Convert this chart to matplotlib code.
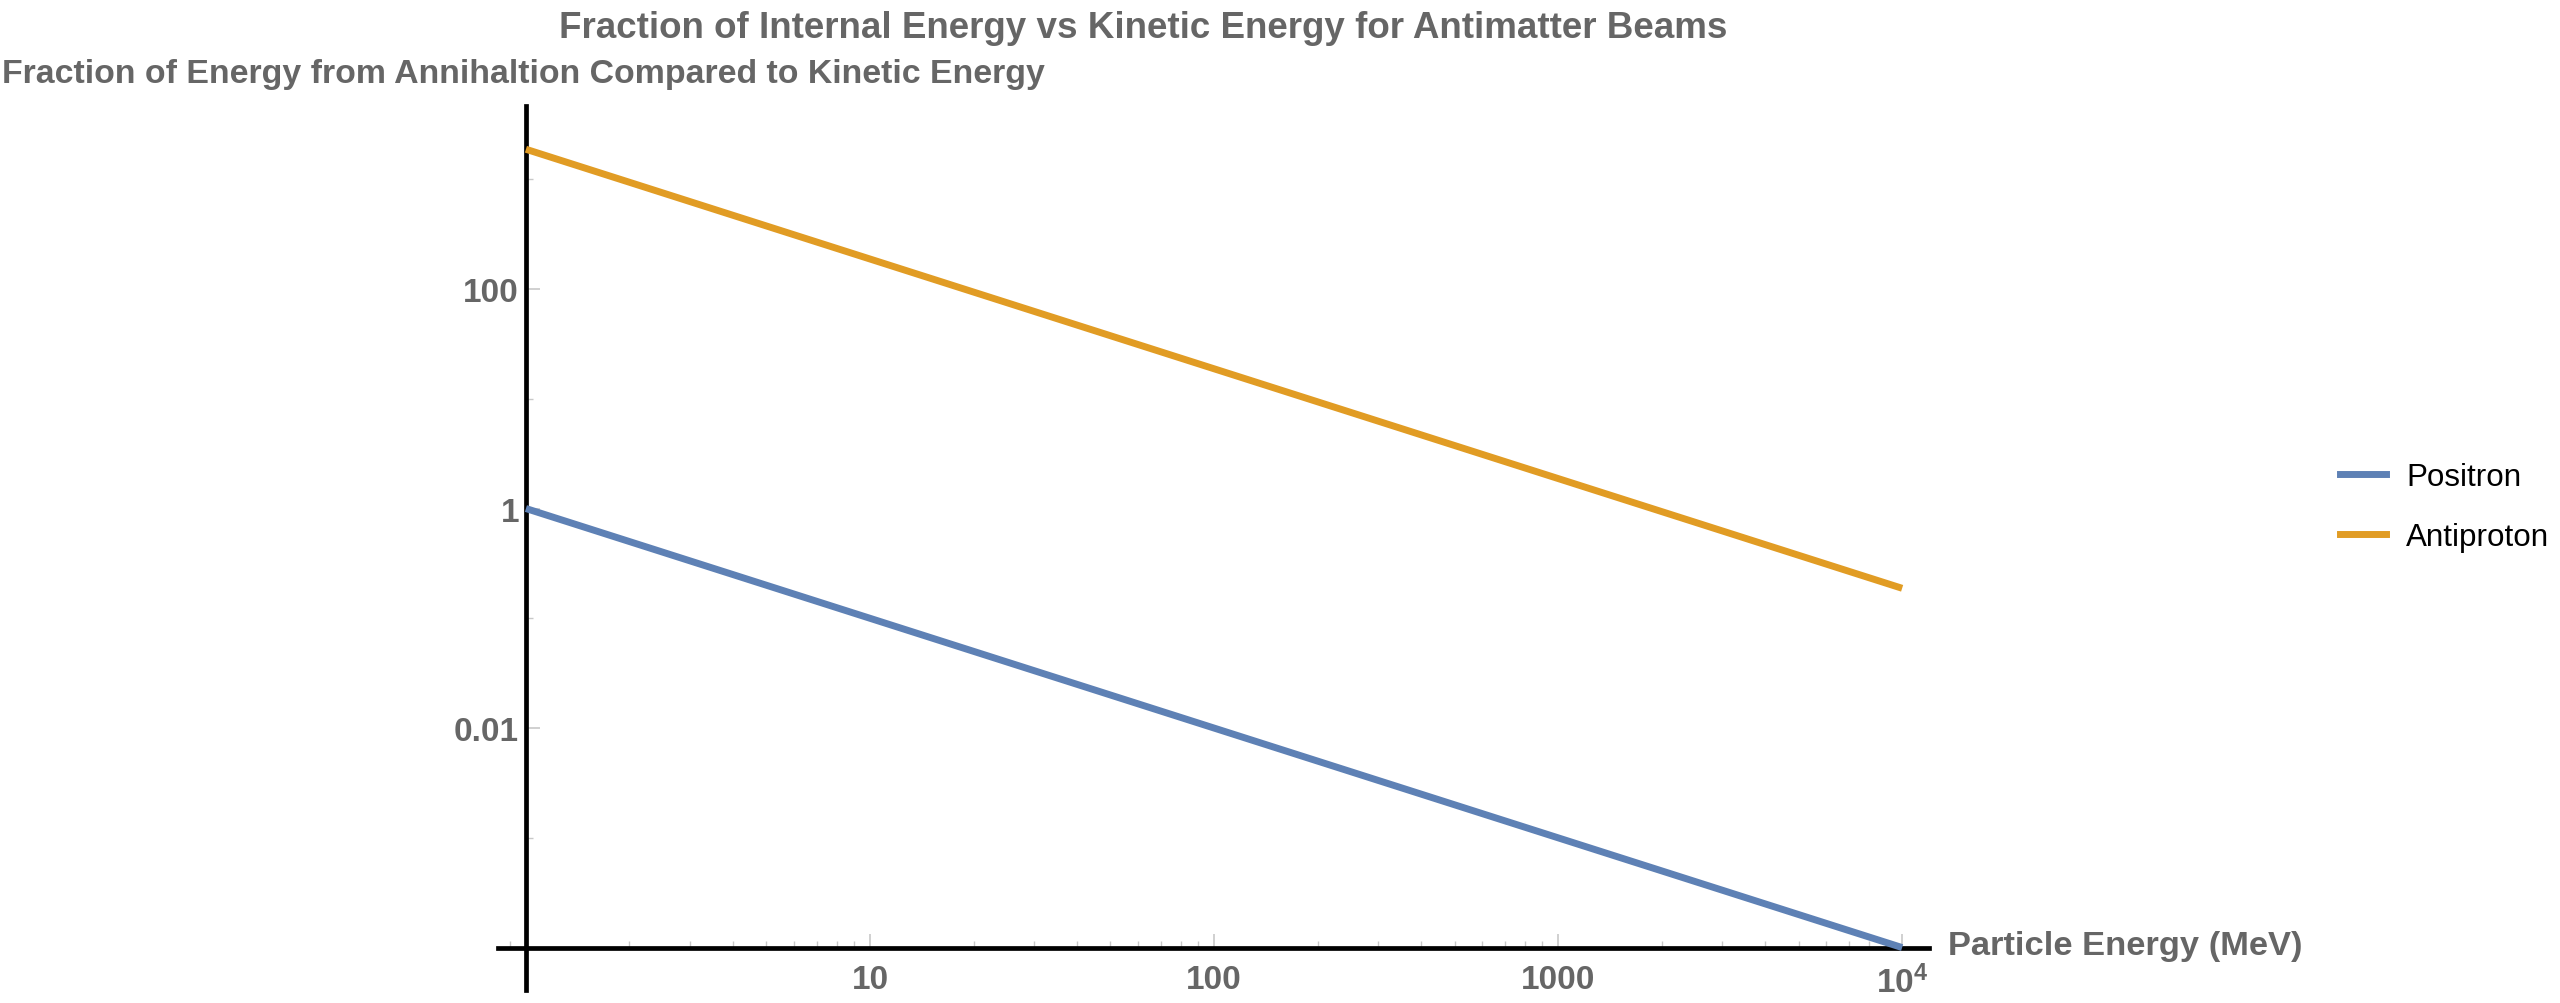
import numpy as np
import matplotlib
matplotlib.use("Agg")
import matplotlib.pyplot as plt
from matplotlib.ticker import FixedLocator, NullFormatter, LogLocator
from matplotlib.lines import Line2D

plt.rcParams['font.family'] = ['Liberation Sans', 'DejaVu Sans']
plt.rcParams['mathtext.fontset'] = 'custom'
plt.rcParams['mathtext.rm'] = 'Liberation Sans:bold'
plt.rcParams['mathtext.it'] = 'Liberation Sans:bold'
plt.rcParams['mathtext.bf'] = 'Liberation Sans:bold'

# values
energy_mev = [1, 10, 100, 1000, 10000]
positron_frac = [1, 0.1, 0.01, 0.001, 0.0001]
antiproton_frac = [1876, 187.6, 18.76, 1.876, 0.1876]
series_names = ['Positron', 'Antiproton']

x_ticks = [10, 100, 1000, 10000]
x_tick_labels = ['10', '100', '1000', '$10^{4}$']
y_ticks = [0.01, 1, 100]
y_tick_labels = ['0.01', '1', '100']
y_minor = [0.001, 0.1, 10, 1000]

title = 'Fraction of Internal Energy vs Kinetic Energy for Antimatter Beams'
y_label = 'Fraction of Energy from Annihaltion Compared to Kinetic Energy'
x_label = 'Particle Energy (MeV)'

blue = '#5E81B5'
orange = '#E19C24'
gray = '#666666'
tick_gray = '#c8c8c8'

fig = plt.figure(figsize=(25.6, 10.04), dpi=100)
ax = fig.add_axes([0.1945, 0.0129, 0.559, 0.8805])

ax.plot(energy_mev, positron_frac, color=blue, lw=5, solid_capstyle='butt', zorder=3)
ax.plot(energy_mev, antiproton_frac, color=orange, lw=5, solid_capstyle='butt', zorder=3)

ax.set_xscale('log')
ax.set_yscale('log')
ax.set_xlim(10 ** -0.0814, 10 ** 4.078)
ax.set_ylim(10 ** -4.387, 10 ** 3.667)

# mathematica style axes crossing at (1, 1e-4)
for s in ['top', 'right']:
    ax.spines[s].set_visible(False)
ax.spines['left'].set_position(('data', 1))
ax.spines['bottom'].set_position(('data', 1e-4))
for s in ['left', 'bottom']:
    ax.spines[s].set_linewidth(3.4)
    ax.spines[s].set_color('black')
    ax.spines[s].set_zorder(2)

ax.set_xticks(x_ticks, x_tick_labels, fontweight='bold')
ax.xaxis.set_minor_locator(LogLocator(base=10, subs=np.arange(2, 10), numticks=20))
ax.xaxis.set_minor_formatter(NullFormatter())
ax.set_yticks(y_ticks, y_tick_labels, fontweight='bold')
ax.yaxis.set_minor_locator(FixedLocator(y_minor))
ax.yaxis.set_minor_formatter(NullFormatter())

ax.tick_params(which='major', direction='in', length=10, width=1.2, color=tick_gray,
               labelsize=24, labelcolor=gray)
ax.tick_params(which='minor', direction='in', length=5, width=1.0, color=tick_gray)
ax.tick_params(axis='x', which='major', pad=12)
ax.tick_params(axis='y', which='major', pad=5)

fig.text(1143 / 2560, 1 - 28 / 1004, title, ha='center', va='center',
         fontsize=26.5, fontweight='bold', color=gray)
fig.text(2 / 2560, 1 - 75 / 1004, y_label, ha='left', va='center',
         fontsize=24.4, fontweight='bold', color=gray)
fig.text(1948 / 2560, 1 - 947 / 1004, x_label, ha='left', va='center',
         fontsize=24.8, fontweight='bold', color=gray)

handles = [Line2D([0], [0], color=blue, lw=5), Line2D([0], [0], color=orange, lw=5)]
fig.legend(handles, series_names, loc='center left', bbox_to_anchor=(2340 / 2560, 1 - 508 / 1004),
           frameon=False, fontsize=22.6, handlelength=1.47, handletextpad=0.64,
           labelspacing=0.94, borderpad=0, borderaxespad=0)

fig.savefig('out.png', dpi=100)
